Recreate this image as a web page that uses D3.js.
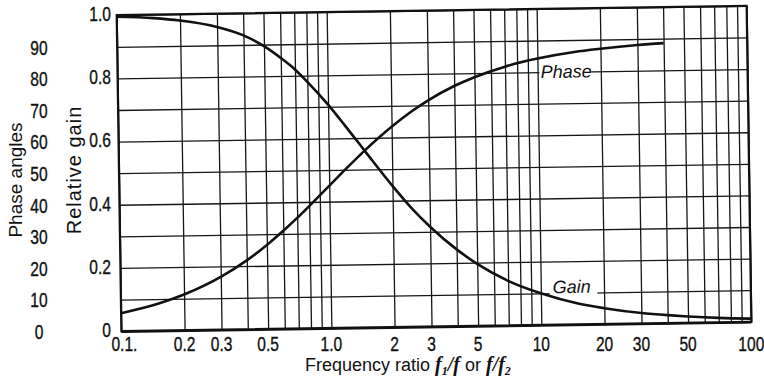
<!DOCTYPE html>
<html>
<head>
<meta charset="utf-8">
<script src="https://cdn.jsdelivr.net/npm/d3@7/dist/d3.min.js"></script>
<style>
  body { margin: 0; background: #fff; }
  svg { display: block; }
  .tick-label { font-family: "Liberation Sans", Arial, sans-serif; font-size: 20.5px; fill: #111; stroke: #111; stroke-width: 0.35px; }
  .title { font-family: "Liberation Sans", Arial, sans-serif; font-size: 19px; fill: #111; }
  .curve-label { font-family: "Liberation Sans", Arial, sans-serif; font-size: 18px; font-style: italic; fill: #111; }
</style>
</head>
<body>
<svg id="chart" width="764" height="378"></svg>
<script>
// Frequency ratio points and the values
const freq = [0.1, 0.15, 0.2, 0.3, 0.4, 0.5, 0.6, 0.7, 0.8, 1.0, 1.2, 1.5, 2, 2.5, 3, 4, 5, 7, 10, 15, 20, 30, 40, 50, 70, 100];
const gain = [0.995, 0.989, 0.98, 0.958, 0.93, 0.895, 0.857, 0.82, 0.78, 0.707, 0.64, 0.555, 0.447, 0.37, 0.316, 0.243, 0.196, 0.141, 0.1, 0.066, 0.05, 0.033, 0.025, 0.02, 0.014, 0.01];
const phaseFreq = [0.1, 0.15, 0.2, 0.3, 0.4, 0.5, 0.6, 0.7, 0.8, 1.0, 1.2, 1.5, 2, 2.5, 3, 4, 5, 7, 10, 15, 20, 30, 40];
const phaseDeg = [5.7, 8.5, 11.3, 16.7, 21.8, 26.6, 31, 35, 38.7, 45, 50.2, 56.3, 63.4, 68.2, 71.6, 76, 78.7, 81.9, 84.3, 86.2, 87.1, 88.1, 88.6];

// Axis ticks and labels
const gainTicks = [0, 0.2, 0.4, 0.6, 0.8, 1.0];
const gainTickLabels = ["0", "0.2", "0.4", "0.6", "0.8", "1.0"];
const phaseTicks = [0, 10, 20, 30, 40, 50, 60, 70, 80, 90];
const freqTicks = [0.1, 0.2, 0.3, 0.5, 1, 2, 3, 5, 10, 20, 30, 50, 100];
const freqTickLabels = ["0.1.", "0.2", "0.3", "0.5", "1.0", "2", "3", "5", "10", "20", "30", "50", "100"];
const freqGrid = [0.1, 0.2, 0.3, 0.4, 0.5, 0.6, 0.7, 0.8, 0.9, 1, 2, 3, 4, 5, 6, 7, 8, 9, 10, 20, 30, 40, 50, 60, 70, 80, 90, 100];
const gainGrid = [0, 0.1, 0.2, 0.3, 0.4, 0.5, 0.6, 0.7, 0.8, 0.9, 1.0];

const svg = d3.select("#chart");
const frame = { left: 119, top: 10.5, right: 749, bottom: 326.5 };
const tilt = -0.85; // the printed grid sits slightly askew
const cx = (frame.left + frame.right) / 2, cy = (frame.top + frame.bottom) / 2;
const narrow = 0.76; // horizontal squeeze for the tall, narrow lettering of the tick labels

const x = d3.scaleLog().domain([0.1, 100]).range([frame.left, frame.right]);
const y = d3.scaleLinear().domain([0, 1]).range([frame.bottom, frame.top]);
const yPhase = d3.scaleLinear().domain([0, 100]).range([frame.bottom, frame.top]);

function tilted(px, py) {
  const a = tilt * Math.PI / 180, dx = px - cx, dy = py - cy;
  return [cx + dx * Math.cos(a) - dy * Math.sin(a), cy + dx * Math.sin(a) + dy * Math.cos(a)];
}

const plot = svg.append("g").attr("transform", `rotate(${tilt},${cx},${cy})`);

// Grid lines drawn with axes whose ticks span the plot
plot.append("g")
  .attr("transform", `translate(0,${frame.bottom})`)
  .call(d3.axisBottom(x).tickValues(freqGrid).tickSize(-(frame.bottom - frame.top)).tickFormat(""))
  .call(g => g.select(".domain").remove())
  .call(g => g.selectAll("line").attr("stroke", "#161616").attr("stroke-width", 1.3));

plot.append("g")
  .attr("transform", `translate(${frame.left},0)`)
  .call(d3.axisLeft(y).tickValues(gainGrid).tickSize(-(frame.right - frame.left)).tickFormat(""))
  .call(g => g.select(".domain").remove())
  .call(g => g.selectAll("line").attr("stroke", "#161616").attr("stroke-width", 1.3));

// Frame
plot.append("rect")
  .attr("x", frame.left).attr("y", frame.top)
  .attr("width", frame.right - frame.left).attr("height", frame.bottom - frame.top)
  .attr("fill", "none").attr("stroke", "#111").attr("stroke-width", 2.2);
plot.append("line")
  .attr("x1", frame.left).attr("x2", frame.right)
  .attr("y1", frame.bottom + 1).attr("y2", frame.bottom + 1)
  .attr("stroke", "#111").attr("stroke-width", 1.5);

// Curve labels sitting on gaps in the grid lines
function curveLabel(text, xv, yv, x0, x1, dyText) {
  plot.append("rect")
    .attr("x", x(x0)).attr("y", y(yv) - 2.5)
    .attr("width", x(x1) - x(x0)).attr("height", 5)
    .attr("fill", "#fff");
  plot.append("text").attr("class", "curve-label")
    .attr("x", x(xv)).attr("y", y(yv) + dyText)
    .text(text);
}
curveLabel("Phase", 10.35, 0.8, 10.2, 18.0, 6);
curveLabel("Gain", 11.4, 0.1, 11.0, 18.6, 0);

// Curves
const line = d3.line().curve(d3.curveMonotoneX);
plot.append("path")
  .attr("d", line(freq.map((f, i) => [x(f), y(gain[i])])))
  .attr("fill", "none").attr("stroke", "#111").attr("stroke-width", 2.6);
plot.append("path")
  .attr("d", line(phaseFreq.map((f, i) => [x(f), yPhase(phaseDeg[i])])))
  .attr("fill", "none").attr("stroke", "#111").attr("stroke-width", 2.6);

// Tick labels (set upright, following the grid positions)
function tickText(px, py, anchor, baseline, str) {
  svg.append("text").attr("class", "tick-label")
    .attr("transform", `translate(${px},${py}) scale(${narrow},1)`)
    .attr("text-anchor", anchor).attr("dominant-baseline", baseline)
    .text(str);
}
gainTicks.forEach((v, i) => {
  const p = tilted(frame.left, y(v));
  tickText(111, p[1] - 1, "end", "central", gainTickLabels[i]);
});
phaseTicks.forEach(v => {
  const p = tilted(frame.left, yPhase(v));
  tickText(39, p[1] + 1, "middle", "central", v);
});
freqTicks.forEach((v, i) => {
  const p = tilted(x(v), frame.bottom);
  tickText(p[0] + (i === 0 ? 3 : 0), 351, "middle", "auto", freqTickLabels[i]);
});

// Axis titles
svg.append("text").attr("class", "title")
  .attr("transform", "translate(22,180) rotate(-90)")
  .attr("text-anchor", "middle")
  .text("Phase angles");
svg.append("text").attr("class", "title")
  .attr("transform", "translate(81,170) rotate(-90)")
  .attr("text-anchor", "middle")
  .attr("letter-spacing", 1)
  .style("font-size", "20px")
  .text("Relative gain");

const xt = svg.append("text").attr("class", "title").attr("x", 305).attr("y", 371).style("font-size", "18px");
xt.append("tspan").text("Frequency ratio ");
const sym = "font-family:'Liberation Serif',serif;font-weight:bold;font-style:italic;font-size:20px";
xt.append("tspan").attr("style", sym).text("f");
xt.append("tspan").attr("style", sym + ";font-size:12px").attr("dy", 4).text("1");
xt.append("tspan").attr("style", sym).attr("dy", -4).text("/f");
xt.append("tspan").text(" or ");
xt.append("tspan").attr("style", sym).text("f/f");
xt.append("tspan").attr("style", sym + ";font-size:12px").attr("dy", 4).text("2");
</script>
</body>
</html>
